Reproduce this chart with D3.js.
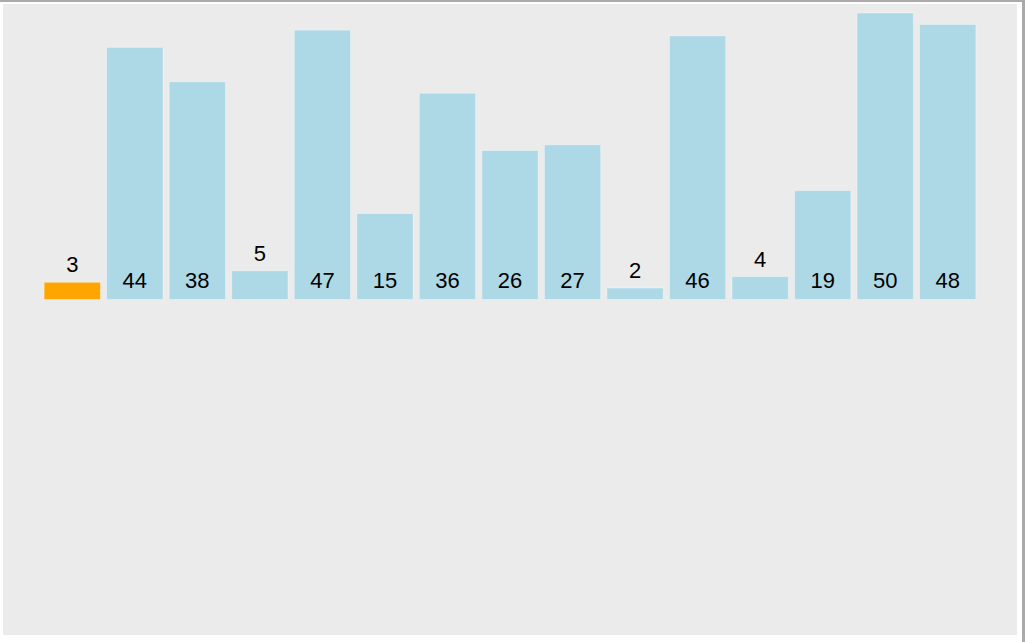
<!DOCTYPE html>
<html>
<head>
<meta charset="utf-8">
<script src="https://cdn.jsdelivr.net/npm/d3@7"></script>
<style>
html,body{margin:0;padding:0;background:#fff;}
svg{display:block;}
</style>
</head>
<body>
<svg id="chart" width="1025" height="642"></svg>
<script>
const values = [3, 44, 38, 5, 47, 15, 36, 26, 27, 2, 46, 4, 19, 50, 48];
const highlightIndex = [0];
const labelThreshold = 5;

const svg = d3.select("#chart");
// window frame
svg.append("rect").attr("x", 0).attr("y", 0).attr("width", 1025).attr("height", 642).attr("fill", "#fff");
svg.append("rect").attr("x", 0).attr("y", 0).attr("width", 1025).attr("height", 2).attr("fill", "#aaaaaa");
svg.append("rect").attr("x", 1022).attr("y", 0).attr("width", 3).attr("height", 642).attr("fill", "#aaaaaa");
svg.append("rect").attr("x", 3).attr("y", 4).attr("width", 1014).attr("height", 631).attr("fill", "#ebebeb");

const baseY = 299.5;
const x = d3.scaleBand().domain(d3.range(values.length)).range([41, 979]).paddingInner(0.1).paddingOuter(0.05);
const y = d3.scaleLinear().domain([0, 50]).range([baseY, 13]);

const g = svg.append("g");
g.selectAll("rect.bar").data(values).join("rect")
  .attr("class", "bar")
  .attr("x", (d, i) => x(i))
  .attr("y", d => y(d))
  .attr("width", x.bandwidth())
  .attr("height", d => baseY - y(d))
  .attr("fill", (d, i) => highlightIndex.includes(i) ? "#ffa500" : "#add8e6")
  .attr("stroke", "rgba(255,255,255,0.35)")
  .attr("stroke-width", 1);

g.selectAll("text.lbl").data(values).join("text")
  .attr("class", "lbl")
  .attr("x", (d, i) => x(i) + x.bandwidth() / 2)
  .attr("y", d => d <= labelThreshold ? y(d) - 10 : baseY - 12)
  .attr("text-anchor", "middle")
  .attr("font-family", "Liberation Sans, Arial, sans-serif")
  .attr("font-size", 22)
  .attr("fill", "#000")
  .text(d => d);
</script>
</body>
</html>
